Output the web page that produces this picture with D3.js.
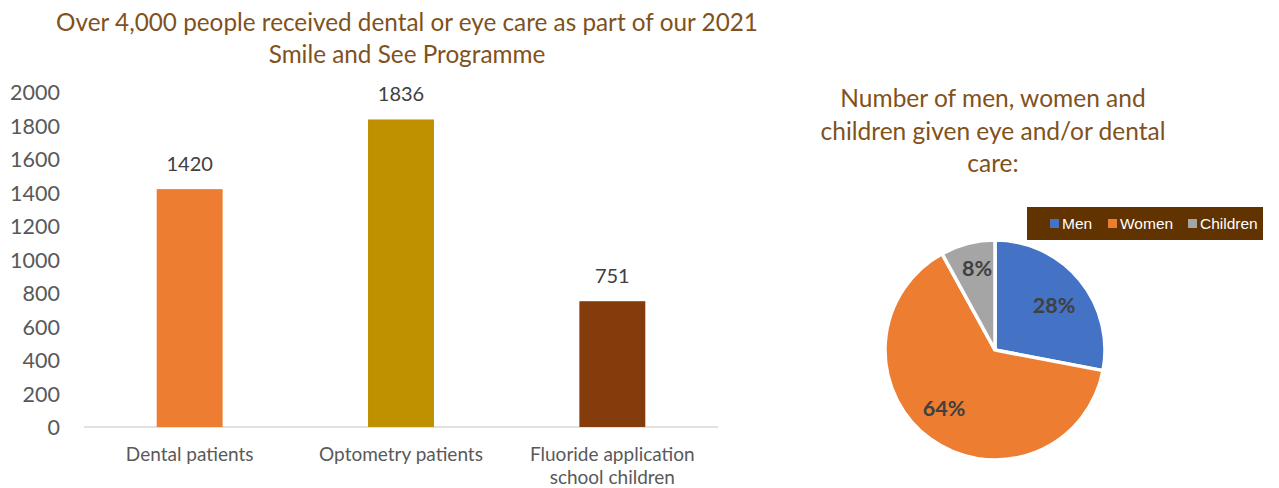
<!DOCTYPE html>
<html><head><meta charset="utf-8">
<script src="https://cdn.jsdelivr.net/npm/d3@7/dist/d3.min.js"></script>
<style>body{margin:0;background:#fff;}svg{display:block;}</style>
</head><body>
<svg id="c" width="1279" height="488"></svg>
<script>
const barCategories = [["Dental patients"], ["Optometry patients"], ["Fluoride application", "school children"]];
const barValues = [1420, 1836, 751];
const barColors = ["#ED7D31", "#BF9000", "#843C0C"];
const yTicks = [0, 200, 400, 600, 800, 1000, 1200, 1400, 1600, 1800, 2000];
const pieLabels = ["Men", "Women", "Children"];
const pieValues = [28, 64, 8];
const pieColors = ["#4472C4", "#ED7D31", "#A5A5A5"];
const barTitle = ["Over 4,000 people received dental or eye care as part of our 2021", "Smile and See Programme"];
const pieTitle = ["Number of men, women and", "children given eye and/or dental", "care:"];

const svg = d3.select("#c");
const font = "Lato, 'Open Sans', sans-serif";
const titleColor = "#7F5220";

// Bar chart
const y = d3.scaleLinear().domain([0, 2000]).range([427, 92]);
const x = d3.scaleBand().domain(d3.range(barValues.length)).range([84, 718]).paddingInner(0.688).paddingOuter(0.344);

svg.append("g").selectAll("text").data(barTitle).join("text")
  .attr("x", 407).attr("y", (d, i) => 31 + i * 32)
  .attr("text-anchor", "middle").attr("font-family", font).attr("font-size", 24.3)
  .attr("fill", titleColor).text(d => d);

const yAxis = svg.append("g").attr("transform", "translate(60,0)")
  .call(d3.axisLeft(y).tickValues(yTicks).tickFormat(d3.format("d")).tickSize(0).tickPadding(0));
yAxis.select(".domain").remove();
yAxis.selectAll("text").attr("font-family", font).attr("font-size", 21.5).attr("fill", "#595959").attr("dy", "0.36em");

svg.append("line").attr("x1", 84).attr("x2", 718).attr("y1", y(0)).attr("y2", y(0))
  .attr("stroke", "#D9D9D9").attr("stroke-width", 1.5);

svg.append("g").selectAll("rect").data(barValues).join("rect")
  .attr("x", (d, i) => x(i)).attr("width", x.bandwidth())
  .attr("y", d => y(d)).attr("height", d => y(0) - y(d))
  .attr("fill", (d, i) => barColors[i]);

svg.append("g").selectAll("text").data(barValues).join("text")
  .attr("x", (d, i) => x(i) + x.bandwidth() / 2).attr("y", d => y(d) - 18)
  .attr("text-anchor", "middle").attr("font-family", font).attr("font-size", 20)
  .attr("fill", "#404040").text(d => d);

const cat = svg.append("g").selectAll("text").data(barCategories).join("text")
  .attr("text-anchor", "middle").attr("font-family", font).attr("font-size", 19).attr("fill", "#595959");
cat.each(function(d, i) {
  d3.select(this).selectAll("tspan").data(d).join("tspan")
    .attr("x", x(i) + x.bandwidth() / 2).attr("y", (t, j) => 460.5 + j * 23.5).text(t => t);
});

// Pie chart
svg.append("g").selectAll("text").data(pieTitle).join("text")
  .attr("x", 993).attr("y", (d, i) => 107 + i * 32.5)
  .attr("text-anchor", "middle").attr("font-family", font).attr("font-size", 24.5)
  .attr("fill", titleColor).text(d => d);

const cx = 995, cy = 350, r = 110;
const pie = d3.pie().sort(null).value(d => d)(pieValues);
const arc = d3.arc().innerRadius(0).outerRadius(r);
const pg = svg.append("g").attr("transform", `translate(${cx},${cy})`);
pg.selectAll("path").data(pie).join("path")
  .attr("d", arc).attr("fill", (d, i) => pieColors[i])
  .attr("stroke", "#fff").attr("stroke-width", 3.5).attr("stroke-linejoin", "miter");

const labelPos = [[59, -45], [-51, 58], [-18, -82]];
pg.selectAll("text.pl").data(pie).join("text").attr("class", "pl")
  .attr("x", (d, i) => labelPos[i][0]).attr("y", (d, i) => labelPos[i][1])
  .attr("dy", "0.36em").attr("text-anchor", "middle")
  .attr("font-family", font).attr("font-weight", "bold").attr("font-size", 21.5)
  .attr("fill", "#404040").text(d => d.data + "%");

// Legend
const lg = svg.append("g");
lg.append("rect").attr("x", 1027).attr("y", 207).attr("width", 236).attr("height", 33).attr("fill", "#603300");
const legX = [1050, 1108, 1188];
pieLabels.forEach((l, i) => {
  lg.append("rect").attr("x", legX[i]).attr("y", 219).attr("width", 9).attr("height", 9).attr("fill", pieColors[i]);
  lg.append("text").attr("x", legX[i] + 12).attr("y", 229)
    .attr("font-family", "'Liberation Sans', Arial, sans-serif").attr("font-size", 15.5)
    .attr("fill", "#fff").text(l);
});
</script>
</body></html>
